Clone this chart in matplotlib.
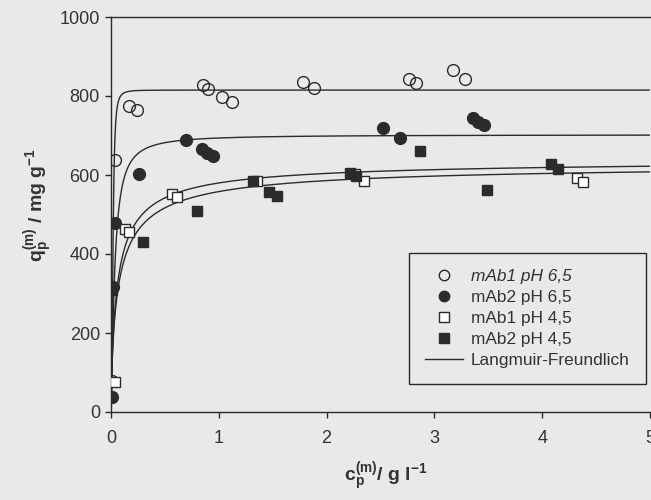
import numpy as np
import matplotlib
matplotlib.use("Agg")
import matplotlib.pyplot as plt

# measured isotherm points: c_p (g/l), q_p (mg/g)
mab1_ph65_c = [0.01, 0.04, 0.17, 0.24, 0.85, 0.90, 1.03, 1.12, 1.78, 1.88, 2.76, 2.83, 3.17, 3.28]
mab1_ph65_q = [78, 638, 775, 765, 828, 818, 797, 785, 835, 820, 843, 833, 866, 843]

mab2_ph65_c = [0.01, 0.02, 0.04, 0.26, 0.70, 0.84, 0.89, 0.95, 2.52, 2.68, 3.36, 3.40, 3.46]
mab2_ph65_q = [38, 316, 478, 603, 689, 666, 656, 648, 719, 694, 744, 734, 727]

mab1_ph45_c = [0.04, 0.13, 0.17, 0.57, 0.61, 1.35, 2.26, 2.35, 4.32, 4.38]
mab1_ph45_q = [76, 463, 456, 552, 544, 585, 603, 585, 592, 582]

mab2_ph45_c = [0.01, 0.30, 0.80, 1.32, 1.47, 1.54, 2.22, 2.27, 2.87, 3.49, 4.08, 4.15]
mab2_ph45_q = [309, 430, 509, 585, 557, 547, 605, 598, 661, 562, 628, 615]

# Langmuir-Freundlich fit parameters: q_max, K, n
fit_qmax = [815, 702, 640, 632]
fit_k = [55, 30, 17, 14.8]
fit_n = [2.5, 1.3, 0.8, 0.75]

legend_labels = ["mAb1 pH 6,5", "mAb2 pH 6,5", "mAb1 pH 4,5", "mAb2 pH 4,5", "Langmuir-Freundlich"]

ink = "#2b2b2b"
paper = "#e9e9ea"
text_col = "#333333"

plt.rcParams["font.family"] = ["Liberation Sans", "DejaVu Sans"]
plt.rcParams["mathtext.fontset"] = "custom"
plt.rcParams["mathtext.rm"] = "Liberation Sans:bold"
plt.rcParams["mathtext.it"] = "Liberation Sans:bold"
plt.rcParams["mathtext.bf"] = "Liberation Sans:bold"
plt.rcParams["mathtext.default"] = "rm"


def langmuir_freundlich(c, qmax, k, n):
    kc = (k * c) ** n
    return qmax * kc / (1 + kc)


fig = plt.figure(figsize=(6.51, 5.0), dpi=100, facecolor=paper)
ax = fig.add_axes([111 / 651, 88 / 500, 539 / 651, 395 / 500])
ax.set_facecolor(paper)

c_fit = np.concatenate([np.linspace(0, 0.5, 500), np.linspace(0.5, 5, 300)[1:]])
for qmax, k, n in zip(fit_qmax, fit_k, fit_n):
    ax.plot(c_fit, langmuir_freundlich(c_fit, qmax, k, n), color=ink, lw=1.0, zorder=2)

ms = 8.5
ax.plot(mab1_ph65_c, mab1_ph65_q, "o", ms=ms, mfc="none", mec=ink, mew=1.0, zorder=3)
ax.plot(mab2_ph65_c, mab2_ph65_q, "o", ms=ms, mfc=ink, mec=ink, mew=1.0, zorder=3)
ax.plot(mab1_ph45_c, mab1_ph45_q, "s", ms=7.5, mfc="white", mec=ink, mew=1.0, zorder=3)
ax.plot(mab2_ph45_c, mab2_ph45_q, "s", ms=7.5, mfc=ink, mec=ink, mew=1.0, zorder=4)

ax.set_xlim(0, 5)
ax.set_ylim(0, 1000)
ax.set_xticks([0, 1, 2, 3, 4, 5])
ax.set_yticks([0, 200, 400, 600, 800, 1000])

ax.spines["right"].set_visible(False)
for side in ["left", "bottom", "top"]:
    ax.spines[side].set_color(ink)
    ax.spines[side].set_linewidth(1.0)
ax.tick_params(direction="out", length=4, width=1.0, color=ink,
               labelsize=13, labelcolor=text_col)
ax.tick_params(axis="x", pad=9)
ax.tick_params(axis="y", pad=4)

ax.set_xlabel(r"$c_p^{(m)}$/ g l$^{-1}$", fontsize=14, fontweight="bold", color=text_col)
ax.set_ylabel(r"$q_p^{(m)}$ / mg g$^{-1}$", fontsize=14, fontweight="bold", color=text_col)
ax.xaxis.set_label_coords(0.51, -0.122)
ax.yaxis.set_label_coords(-0.104, 0.524)

handles = [
    plt.Line2D([], [], ls="none", marker="o", ms=7.5, mfc="none", mec=ink, mew=1.0),
    plt.Line2D([], [], ls="none", marker="o", ms=7.5, mfc=ink, mec=ink),
    plt.Line2D([], [], ls="none", marker="s", ms=6.5, mfc="white", mec=ink, mew=1.0),
    plt.Line2D([], [], ls="none", marker="s", ms=6.5, mfc=ink, mec=ink),
    plt.Line2D([], [], color=ink, lw=1.0),
]
leg = ax.legend(handles, legend_labels, loc="upper left", bbox_to_anchor=(0.553, 0.4025),
                fontsize=12.4, frameon=True, fancybox=False, edgecolor=ink,
                facecolor=paper, framealpha=1, borderpad=0.95, labelspacing=0.34,
                handlelength=2.2, handletextpad=0.45, borderaxespad=0)
leg.get_frame().set_linewidth(1.0)
for t in leg.get_texts():
    t.set_color(text_col)
leg.get_texts()[0].set_fontstyle("italic")

fig.savefig("out.png", dpi=100, facecolor=paper)
